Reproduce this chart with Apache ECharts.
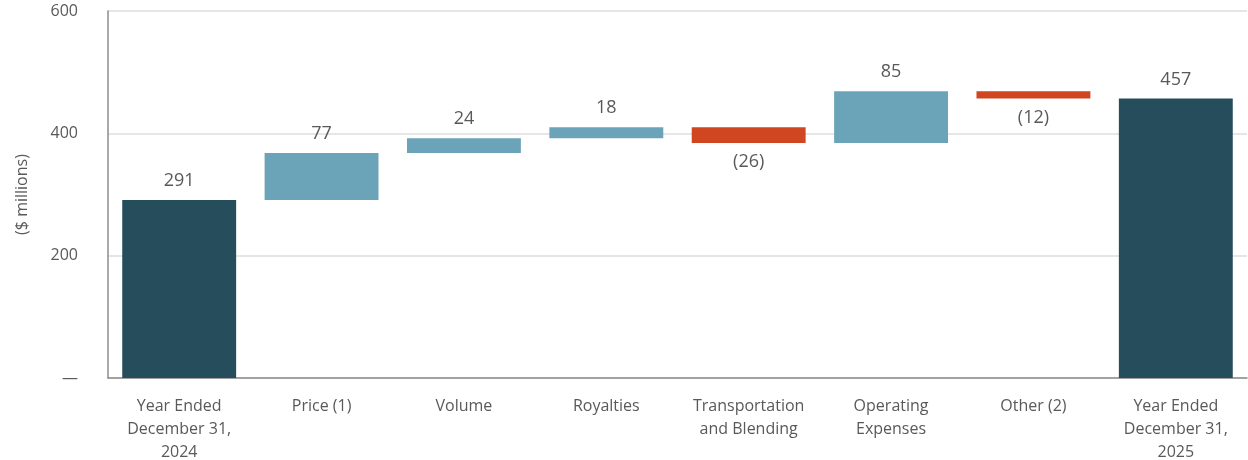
<!DOCTYPE html>
<html>
<head>
<meta charset="utf-8">
<script src="https://cdn.jsdelivr.net/npm/echarts@6/dist/echarts.min.js"></script>
<style>
  html, body { margin: 0; padding: 0; background: #fff; }
  #chart { width: 1248px; height: 460px; }
</style>
</head>
<body>
<div id="chart"></div>
<script>
  var categories = [
    'Year Ended\nDecember 31,\n2024',
    'Price (1)',
    'Volume',
    'Royalties',
    'Transportation\nand Blending',
    'Operating\nExpenses',
    'Other (2)',
    'Year Ended\nDecember 31,\n2025'
  ];
  // totals at both ends, changes in between
  var startTotal = 291;
  var changes = [77, 24, 18, -26, 85, -12];
  var endTotal = 457;
  var yTicks = [0, 200, 400, 600];

  var colTotal = '#254d5c';
  var colUp = '#6ba4b8';
  var colDown = '#d04620';
  var textCol = '#595959';

  // build base (invisible) and visible bar pieces
  var base = [0];
  var shown = [{ value: startTotal, itemStyle: { color: colTotal }, label: { position: 'top' }, raw: startTotal }];
  var run = startTotal;
  for (var i = 0; i < changes.length; i++) {
    var c = changes[i];
    var next = run + c;
    base.push(Math.min(run, next));
    shown.push({
      value: Math.abs(c),
      raw: c,
      itemStyle: { color: c >= 0 ? colUp : colDown },
      label: { position: c >= 0 ? 'top' : 'bottom' }
    });
    run = next;
  }
  base.push(0);
  shown.push({ value: endTotal, raw: endTotal, itemStyle: { color: colTotal }, label: { position: 'top' } });

  var chart = echarts.init(document.getElementById('chart'));
  chart.setOption({
    animation: false,
    textStyle: { fontFamily: 'Open Sans' },
    grid: { left: 108, right: 1, top: 11, bottom: 82, containLabel: false, outerBoundsMode: 'none' },
    xAxis: {
      type: 'category',
      data: categories,
      axisLine: { lineStyle: { color: '#8c8c8c', width: 1.5 } },
      axisTick: { show: false },
      axisLabel: { color: textCol, fontSize: 16, lineHeight: 23, margin: 17, interval: 0 }
    },
    yAxis: {
      type: 'value',
      min: yTicks[0],
      max: yTicks[yTicks.length - 1],
      interval: 200,
      name: '($ millions)',
      nameLocation: 'middle',
      nameGap: 78,
      nameTextStyle: { color: textCol, fontSize: 16 },
      axisLine: { show: true, lineStyle: { color: '#8c8c8c', width: 1.5 } },
      axisTick: { show: false },
      splitLine: { lineStyle: { color: '#dedede', width: 1.5 } },
      axisLabel: {
        color: textCol, fontSize: 16, margin: 30,
        formatter: function (v) { return v === 0 ? '\u2014' : v; }
      }
    },
    series: [
      {
        type: 'bar',
        stack: 'wf',
        data: base,
        itemStyle: { color: 'transparent' },
        silent: true,
        barWidth: '80%'
      },
      {
        type: 'bar',
        stack: 'wf',
        data: shown,
        barWidth: '80%',
        label: {
          show: true,
          color: textCol,
          fontSize: 18,
          distance: 10,
          formatter: function (p) {
            var r = p.data.raw;
            return r < 0 ? '(' + Math.abs(r) + ')' : String(r);
          }
        }
      }
    ]
  });
</script>
</body>
</html>
